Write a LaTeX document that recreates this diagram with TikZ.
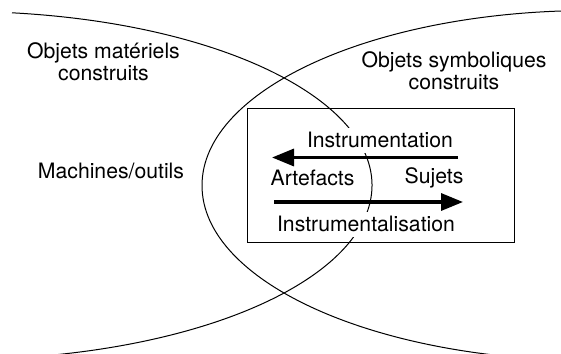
\documentclass[tikz,border=0pt]{standalone}
\usepackage{fontspec}
\setmainfont{TeX Gyre Heros}
\usetikzlibrary{arrows.meta}
\usetikzlibrary{positioning}

\begin{document}
\begin{tikzpicture}[x=0.5pt, y=0.5pt,
    txt/.style={font=\fontsize{10.6pt}{11pt}\selectfont, align=center, inner sep=2.2pt},
    blob/.style={line width=0.5pt},
    flow/.style={line width=1.65pt, -{Triangle[length=11pt, width=8.5pt]}}]
\useasboundingbox (0,0) rectangle (561,353);
\clip (0,0) rectangle (561,353);
% the two domains
\draw[blob] (12,340.2) arc[start angle=82.87, end angle=-100, x radius=411, y radius=174];
\draw[blob] (591,167.5) ellipse[x radius=389, y radius=175];
% the box
\node[draw, line width=0.5pt, inner sep=0pt, minimum width=133.5pt, minimum height=67pt] (box) at (380.5,177) {};
\node[txt, anchor=base, fill=white] (instr) at (380,205) {Instrumentation};
\node[txt, anchor=base] (artef) at (312.5,167) {Artefacts};
\node[txt, anchor=base] (sujets) at (434,169.7) {Sujets};
\node[txt, anchor=base, fill=white] (instrlis) at (366,121) {Instrumentalisation};
% outside
\node[txt, anchor=base] (machines) at (111,174) {Machines/outils};
\node[txt] (materiel) at (103.5,291.5) {Objets matériels\\construits};
\node[txt] (symbol) at (454,282.7) {Objets symboliques\\construits};
% arrows
\coordinate (instr-from) at (458,195.5);
\coordinate (instr-to) at (272,195.5);
\coordinate (instrlis-from) at (274,151);
\coordinate (instrlis-to) at (463,151);
\draw[flow] (instr-from) -- (instr-to);
\draw[flow] (instrlis-from) -- (instrlis-to);
\end{tikzpicture}
\end{document}
